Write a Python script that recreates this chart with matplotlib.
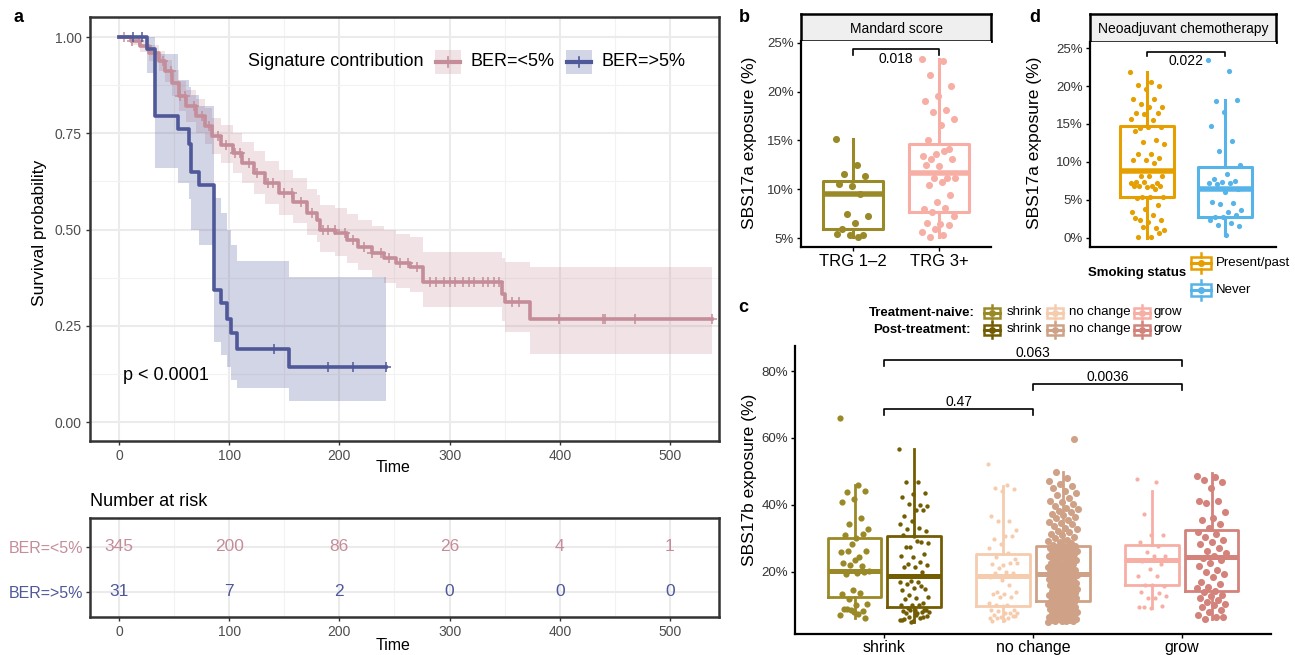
import numpy as np
import matplotlib
matplotlib.use("Agg")
import matplotlib.pyplot as plt
from matplotlib import font_manager
from matplotlib.patches import Rectangle
from matplotlib.lines import Line2D

W, H = 1295, 655

# ---------------- panel a: Kaplan-Meier ----------------
lo_times = [0, 10.5, 19, 27.4, 35.9, 42.2, 48.5, 54.8, 61.2, 69.6, 78, 84.4, 92.8, 103.4,
            111.8, 122.4, 132.9, 145.6, 158.2, 170.9, 180, 182.7, 196.2, 206.7, 217.3,
            229.9, 240.5, 251, 263.7, 275.5, 347.2, 350.2, 373.4]
lo_surv = [1.0, 0.989, 0.976, 0.958, 0.937, 0.911, 0.880, 0.846, 0.820, 0.794, 0.768, 0.742,
           0.720, 0.698, 0.672, 0.646, 0.620, 0.594, 0.572, 0.542, 0.525, 0.499, 0.490, 0.473,
           0.455, 0.438, 0.425, 0.412, 0.403, 0.364, 0.334, 0.312, 0.269]
lo_lower = [1.0, 0.978, 0.960, 0.937, 0.912, 0.882, 0.846, 0.808, 0.780, 0.751, 0.723, 0.695,
            0.672, 0.648, 0.620, 0.593, 0.566, 0.539, 0.516, 0.485, 0.468, 0.441, 0.431, 0.413,
            0.394, 0.376, 0.362, 0.348, 0.337, 0.299, 0.262, 0.234, 0.176]
lo_upper = [1.0, 1.0, 0.992, 0.979, 0.963, 0.941, 0.915, 0.885, 0.862, 0.838, 0.815, 0.791,
            0.771, 0.751, 0.727, 0.703, 0.679, 0.655, 0.634, 0.606, 0.590, 0.565, 0.557, 0.541,
            0.525, 0.510, 0.499, 0.488, 0.481, 0.441, 0.426, 0.415, 0.403]
lo_end = 538
lo_censor = [5, 12, 18, 25, 33, 40, 47, 55, 60, 68, 75, 82, 90, 97, 105, 110, 118, 125, 135,
             140, 150, 157, 165, 175, 185, 190, 196, 205, 212, 222, 230, 238, 245, 255, 262,
             270, 282, 288, 295, 300, 305, 312, 318, 322, 330, 335, 340, 345, 357, 363, 399,
             439, 441, 468, 538]

hi_times = [0, 25, 32.9, 54, 63.3, 65.4, 73, 86.5, 92.8, 97.9, 102, 106.7, 154]
hi_surv = [1.0, 0.968, 0.795, 0.761, 0.722, 0.65, 0.616, 0.344, 0.31, 0.269, 0.232, 0.191, 0.143]
hi_lower = [1.0, 0.906, 0.661, 0.622, 0.58, 0.499, 0.460, 0.208, 0.174, 0.143, 0.11, 0.088, 0.056]
hi_upper = [1.0, 1.0, 0.956, 0.889, 0.87, 0.850, 0.821, 0.581, 0.542, 0.499, 0.46, 0.419, 0.377]
hi_end = 242
hi_censor = [13, 21, 141, 190, 212, 242]

risk_times = [0, 100, 200, 300, 400, 500]
risk_lo = [345, 200, 86, 26, 4, 1]
risk_hi = [31, 7, 2, 0, 0, 0]
group_labels = ["BER=<5%", "BER=>5%"]

# ---------------- panel b ----------------
b_cats = ["TRG 1\u20132", "TRG 3+"]
b_trg12 = [15.2, 12.5, 11.6, 11.4, 10.3, 10.5, 9.5, 7.5, 7.3, 6.5, 5.9, 5.3, 5.3, 5.4, 5.1]
b_trg3 = [23.4, 23.1, 21.7, 20.6, 19.6, 19.0, 18.1, 17.9, 17.2, 16.6, 15.0, 14.1, 13.6, 13.4,
          13.9, 13.1, 13.1, 12.4, 12.5, 11.2, 11.2, 11.2, 10.7, 10.4, 9.4, 8.7, 8.0, 8.1, 7.7,
          7.3, 6.4, 6.5, 6.3, 5.9, 5.6, 5.3, 5.1]
# q1, median, q3, whisker low, whisker high
b_stats = [(5.9, 9.5, 10.8, 5.1, 15.2), (7.7, 11.7, 14.6, 5.1, 23.4)]
b_pval = "0.018"

# ---------------- panel d ----------------
d_cats = ["Present/past", "Never"]
d_present = [21.9, 20.5, 20.1, 20.0, 19.6, 18.3, 18.3, 17.7, 17.3, 17.3, 16.4, 16.4, 16.3, 15.7,
             15.5, 14.5, 14.6, 14.6, 14.1, 12.9, 12.6, 12.4, 11.0, 11.0, 10.5, 10.3, 10.3, 9.8,
             8.1, 8.1, 8.1, 7.3, 7.2, 7.3, 7.2, 6.8, 6.8, 6.8, 6.7, 6.8, 6.4, 5.4, 5.4, 5.4, 5.3,
             4.3, 3.8, 3.4, 3.0, 2.4, 2.4, 2.1, 2.6, 1.3, 1.5, 1.1, 0.1, 0.1, 0.6]
d_never = [23.4, 22.0, 18.0, 18.2, 16.6, 14.7, 12.8, 11.5, 9.6, 8.4, 7.8, 7.5, 7.3, 7.2, 7.2,
           7.1, 6.4, 6.0, 4.7, 4.6, 4.4, 3.7, 3.4, 2.7, 3.0, 2.8, 2.3, 2.0, 1.7, 1.6, 0.4]
d_stats = [(5.4, 8.8, 14.8, 0.0, 21.9), (2.8, 6.5, 9.3, 0.4, 18.2)]
d_pval = "0.022"

# ---------------- panel c ----------------
c_cats = ["shrink", "no change", "grow"]
shrink_naive = [65.9, 46.0, 43.7, 44.2, 41.7, 40.9, 36.0, 34.2, 32.9, 30.2, 31.0, 31.3, 28.3,
                25.8, 24.5, 26.1, 26.2, 23.6, 22.6, 21.6, 22.0, 20.3, 19.5, 19.3, 20.0, 14.5,
                13.3, 13.6, 11.8, 10.4, 9.9, 8.9, 8.2, 8.4, 6.9, 7.4, 8.9, 6.2, 7.8]
shrink_post = [56.6, 46.9, 46.9, 43.4, 43.3, 42.2, 40.0, 40.2, 39.7, 38.5, 36.7, 38.3, 35.2,
               34.2, 33.0, 32.8, 32.3, 30.8, 31.0, 28.8, 27.3, 28.7, 29.3, 27.3, 25.3, 24.3,
               24.8, 22.8, 22.3, 22.1, 21.3, 21.4, 19.8, 17.3, 16.8, 17.0, 16.3, 14.9, 15.0,
               14.4, 15.6, 13.1, 12.4, 12.1, 11.7, 10.5, 10.1, 9.9, 9.9, 9.1, 8.6, 8.4, 8.2,
               8.0, 8.4, 7.8, 7.6, 7.6, 8.5, 5.2, 5.5, 6.0, 6.3, 6.8, 7.0, 5.8, 6.5, 5.0, 5.4]
nochange_naive = [52.3, 45.9, 45.0, 44.7, 44.0, 36.7, 35.2, 35.1, 32.5, 30.7, 29.9, 30.7, 28.4,
                  27.1, 25.6, 24.5, 23.8, 22.0, 22.3, 22.5, 21.0, 22.6, 19.8, 19.5, 19.5, 17.5,
                  18.3, 16.1, 14.0, 13.9, 13.2, 13.2, 12.3, 12.3, 10.6, 10.1, 10.1, 8.6, 9.7,
                  8.6, 7.6, 8.1, 7.6, 7.6, 7.0, 6.8, 6.5, 6.0, 6.0, 6.0, 6.6, 5.5, 5.2]
nochange_post = [5.0, 5.1, 5.1, 5.3, 5.2, 5.5, 5.4, 5.7, 5.9, 5.8, 6.0, 6.2, 6.3, 6.5, 6.6, 6.9,
                 7.0, 7.3, 7.4, 7.6, 7.7, 8.0, 8.1, 8.3, 8.4, 8.7, 8.9, 9.1, 9.2, 9.5, 9.6, 9.9,
                 10.1, 10.3, 10.4, 10.8, 10.9, 11.0, 11.2, 11.3, 11.5, 11.8, 12.0, 12.1, 12.4,
                 12.6, 12.9, 13.0, 13.3, 13.5, 13.6, 13.9, 14.2, 14.4, 14.5, 14.8, 15.1, 15.3,
                 15.4, 15.7, 16.0, 16.1, 16.4, 16.6, 16.9, 17.0, 17.2, 17.5, 17.7, 17.8, 18.1,
                 18.3, 18.4, 18.6, 18.8, 18.9, 19.0, 19.1, 19.2, 19.3, 19.5, 19.8, 20.0, 20.3,
                 20.5, 20.6, 20.9, 21.2, 21.4, 21.5, 21.8, 22.1, 22.3, 22.4, 22.7, 23.0, 23.1,
                 23.4, 23.7, 23.9, 24.0, 24.3, 24.6, 24.7, 25.0, 25.2, 25.4, 25.7, 25.9, 26.0,
                 26.2, 26.5, 26.6, 26.8, 27.0, 27.1, 27.3, 27.5, 27.6, 27.8, 28.1, 28.5, 28.9,
                 29.3, 29.6, 30.2, 30.5, 31.0, 31.4, 31.9, 32.3, 32.8, 33.1, 33.7, 34.2, 34.6,
                 35.0, 35.5, 36.1, 36.4, 37.0, 37.3, 37.8, 38.2, 38.6, 39.0, 39.5, 40.1, 40.7,
                 41.2, 42.0, 42.8, 43.5, 44.2, 44.9, 45.6, 46.3, 47.0, 48.1, 49.9, 59.8]
grow_naive = [47.7, 46.9, 37.2, 31.0, 31.1, 29.0, 27.8, 25.8, 24.8, 24.8, 23.3, 22.3, 20.8, 18.8,
              18.7, 16.1, 15.8, 16.0, 13.8, 13.5, 12.1, 12.6, 12.0, 9.3, 9.7, 9.2, 9.5]
grow_post = [48.5, 48.2, 47.5, 46.8, 45.0, 41.0, 41.2, 40.5, 37.8, 36.0, 35.5, 34.3, 33.0, 32.0,
             31.2, 30.5, 29.5, 28.8, 28.2, 27.0, 26.3, 25.5, 24.8, 24.2, 23.6, 22.5, 21.8, 20.6,
             20.0, 19.2, 18.5, 17.0, 16.2, 15.5, 15.0, 14.3, 13.8, 13.0, 12.6, 12.0, 11.5, 11.0,
             10.3, 10.0, 9.5, 8.5, 7.8, 7.0, 6.5, 5.9, 6.3]
# naive / post box stats per category: q1, median, q3, whisker low, whisker high
c_naive_stats = [(12.5, 20.3, 30.2, 6.2, 46.0), (9.6, 18.6, 25.3, 5.2, 45.7), (16.0, 23.5, 28.0, 9.2, 44.2)]
c_post_stats = [(9.3, 18.8, 30.7, 5.0, 56.6), (11.3, 19.3, 27.8, 5.0, 49.9), (14.3, 24.5, 32.4, 5.9, 49.5)]
c_pvals = ["0.063", "0.0036", "0.47"]

# ---------------- style ----------------
PINK = "#C48D99"
BLUE = "#4F5898"
OLIVE = "#9A8A27"
SALMON = "#F7AEA5"
ORANGE = "#E69F00"
SKY = "#56B4E9"
c_naive_cols = ["#9A8A27", "#F5CCAE", "#F7AEA5"]
c_post_cols = ["#735D03", "#CFA287", "#D3837B"]

names = {f.name for f in font_manager.fontManager.ttflist}
NARROW = "Liberation Sans Narrow" if "Liberation Sans Narrow" in names else "Liberation Sans"
plt.rcParams["font.family"] = ["Liberation Sans", "DejaVu Sans"]

fig = plt.figure(figsize=(W / 100, H / 100), dpi=100)


def px_axes(l, t, r, b):
    return fig.add_axes([l / W, 1 - b / H, (r - l) / W, (b - t) / H])


def ftext(x, y, s, **kw):
    fig.text(x / W, 1 - y / H, s, **kw)


def fline(xs, ys, **kw):
    fig.add_artist(Line2D([x / W for x in xs], [1 - y / H for y in ys], transform=fig.transFigure, **kw))


def frect(l, t, w, h, **kw):
    fig.add_artist(Rectangle((l / W, 1 - (t + h) / H), w / W, h / H, transform=fig.transFigure, **kw))


def key_box(xc, yc, w, h, color, dot=True):
    # small boxplot glyph used in the legends
    frect(xc - w / 2, yc - h * 0.32, w, h * 0.64, fill=False, ec=color, lw=1.8)
    fline([xc - w / 2, xc + w / 2], [yc, yc], color=color, lw=2.2)
    fline([xc, xc], [yc - h / 2, yc - h * 0.32], color=color, lw=1.8)
    fline([xc, xc], [yc + h * 0.32, yc + h / 2], color=color, lw=1.8)
    if dot:
        fig.add_artist(Line2D([xc / W], [1 - yc / H], transform=fig.transFigure, marker="o",
                              ms=4, color=color, ls="none"))


def km(ax, t, s, lo, hi, tend, cens, color):
    tt = np.append(t, tend)
    ax.fill_between(tt, np.append(lo, lo[-1]), np.append(hi, hi[-1]), step="post",
                    color=color, alpha=0.25, lw=0)
    ax.step(tt, np.append(s, s[-1]), where="post", color=color, lw=2.6)
    idx = np.searchsorted(t, cens, side="right") - 1
    ax.plot(cens, np.asarray(s)[idx], ls="none", marker="+", ms=7, mew=1.1, color=color)


def theme_bw(ax):
    ax.set_facecolor("white")
    ax.grid(True, which="major", color="#EBEBEB", lw=1.5)
    ax.grid(True, which="minor", color="#F2F2F2", lw=0.8)
    ax.set_axisbelow(True)
    for sp in ax.spines.values():
        sp.set_color("#333333")
        sp.set_linewidth(1.8)
    ax.tick_params(which="major", length=3, width=1, color="#333333", labelsize=10,
                   labelcolor="#4D4D4D", pad=3)
    ax.tick_params(which="minor", length=0)


def classic(ax):
    for sp in ["top", "right"]:
        ax.spines[sp].set_visible(False)
    for sp in ["left", "bottom"]:
        ax.spines[sp].set_linewidth(1.6)
        ax.spines[sp].set_color("black")
    ax.tick_params(length=3, width=1, color="black", labelsize=9.5, labelcolor="#333333", pad=2)


def jitter(ax, x0, vals, color, s, w):
    k = np.arange(len(vals))
    off = ((k * 0.6180339887) % 1.0 - 0.5) * 2 * w
    ax.scatter(x0 + off, vals, s=s, color=color, lw=0, zorder=3)


def box(ax, pos, st, color, width, lw=2.0):
    q1, med, q3, lo, hi = st
    ax.bxp([dict(med=med, q1=q1, q3=q3, whislo=lo, whishi=hi, fliers=[])], positions=[pos],
           widths=width, showfliers=False, showcaps=False, manage_ticks=False,
           boxprops=dict(color=color, lw=lw), whiskerprops=dict(color=color, lw=lw),
           medianprops=dict(color=color, lw=lw * 1.8, solid_capstyle="butt"))


def bracket(ax, x1, x2, y, ytip, label, ylab):
    ax.plot([x1, x1, x2, x2], [ytip, y, y, ytip], color="black", lw=1.2)
    ax.text((x1 + x2) / 2, ylab, label, ha="center", va="center", fontsize=10)


def strip(l, t, r, b, label):
    sx = px_axes(l, t, r, b)
    sx.set_facecolor("#EFEFEF")
    sx.set_xticks([])
    sx.set_yticks([])
    for sp in sx.spines.values():
        sp.set_linewidth(1.8)
        sp.set_color("black")
    sx.text(0.5, 0.45, label, ha="center", va="center", fontsize=10, transform=sx.transAxes)


# ================= panel a =================
ax = px_axes(90, 17, 719, 441)
theme_bw(ax)
km(ax, lo_times, lo_surv, lo_lower, lo_upper, lo_end, lo_censor, PINK)
km(ax, hi_times, hi_surv, hi_lower, hi_upper, hi_end, hi_censor, BLUE)
ax.set_xlim(-26.3, 544.5)
ax.set_ylim(-0.049, 1.052)
ax.set_xticks(risk_times)
ax.set_xticks([50, 150, 250, 350, 450], minor=True)
ax.set_yticks([0, 0.25, 0.5, 0.75, 1.0])
ax.set_yticks([0.125, 0.375, 0.625, 0.875], minor=True)
ax.set_yticklabels(["0.00", "0.25", "0.50", "0.75", "1.00"])
for lab in ax.get_xticklabels() + ax.get_yticklabels():
    lab.set_family(NARROW)
ax.text(3.6, 0.122, "p < 0.0001", ha="left", va="center", fontsize=13, family=NARROW)
ftext(393, 468, "Time", ha="center", va="center", fontsize=11.5, family=NARROW)
ftext(40, 233, "Survival probability", ha="center", va="center", rotation=90, fontsize=12.5)
ftext(19, 18, "a", ha="center", va="center", fontsize=13, weight="bold")

ftext(248, 62, "Signature contribution", ha="left", va="center", fontsize=13, family=NARROW)
for kx, col, lab in [(448, PINK, group_labels[0]), (578.5, BLUE, group_labels[1])]:
    frect(kx - 13, 50, 26, 24, color=col, alpha=0.25, lw=0)
    fline([kx - 12, kx + 12], [62, 62], color=col, lw=3)
    fline([kx, kx], [57, 67], color=col, lw=1.2)
    ftext(kx + 23, 62, lab, ha="left", va="center", fontsize=13, family=NARROW)

# risk table
rx = px_axes(90, 518, 719, 617)
theme_bw(rx)
rx.set_xlim(-26.3, 544.5)
rx.set_ylim(0.44, 2.64)
rx.set_xticks(risk_times)
rx.set_xticks([50, 150, 250, 350, 450], minor=True)
rx.set_yticks([2, 1])
rx.set_yticklabels(group_labels, fontsize=11.5, family=NARROW)
rx.tick_params(axis="y", pad=2)
rx.get_yticklabels()[0].set_color(PINK)
rx.get_yticklabels()[1].set_color(BLUE)
for lab in rx.get_xticklabels():
    lab.set_family(NARROW)
for t, n1, n2 in zip(risk_times, risk_lo, risk_hi):
    rx.text(t, 2, str(n1), ha="center", va="center", color=PINK, fontsize=12.5, family=NARROW)
    rx.text(t, 1, str(n2), ha="center", va="center", color=BLUE, fontsize=12.5, family=NARROW)
ftext(90, 502, "Number at risk", ha="left", va="center", fontsize=13, family=NARROW)
ftext(393, 645, "Time", ha="center", va="center", fontsize=11.5, family=NARROW)

# ================= panel b =================
strip(801, 14, 991, 41, "Mandard score")
bx = px_axes(801, 41, 991, 247)
classic(bx)
for i, (vals, col) in enumerate([(b_trg12, OLIVE), (b_trg3, SALMON)]):
    box(bx, i + 1, b_stats[i], col, 0.7, lw=2.2)
    jitter(bx, i + 1, vals, col, 26, 0.2)
bracket(bx, 1, 2, 24.35, 23.8, b_pval, 23.35)
bx.set_xlim(0.395, 2.605)
bx.set_ylim(4.08, 25.2)
bx.set_xticks([1, 2])
bx.set_xticklabels(b_cats, fontsize=12, color="black")
bx.set_yticks([5, 10, 15, 20, 25])
bx.set_yticklabels(["5%", "10%", "15%", "20%", "25%"])
ftext(750, 143, "SBS17a exposure (%)", ha="center", va="center", rotation=90, fontsize=12.5)
ftext(744, 17, "b", ha="center", va="center", fontsize=13, weight="bold")

# ================= panel d =================
strip(1090, 14, 1276, 42, "Neoadjuvant chemotherapy")
dx = px_axes(1090, 42, 1276, 247)
classic(dx)
for i, (vals, col) in enumerate([(d_present, ORANGE), (d_never, SKY)]):
    box(dx, i + 1, d_stats[i], col, 0.7, lw=2.2)
    jitter(dx, i + 1, vals, col, 14, 0.22)
bracket(dx, 1, 2, 24.5, 23.9, d_pval, 23.3)
dx.set_xlim(0.26, 2.66)
dx.set_ylim(-1.2, 25.8)
dx.set_xticks([])
dx.set_yticks([0, 5, 10, 15, 20, 25])
dx.set_yticklabels(["0%", "5%", "10%", "15%", "20%", "25%"])
ftext(1035, 143, "SBS17a exposure (%)", ha="center", va="center", rotation=90, fontsize=12.5)
ftext(1035, 17, "d", ha="center", va="center", fontsize=13, weight="bold")
ftext(1088, 273, "Smoking status", ha="left", va="center", fontsize=9.5, weight="bold")
key_box(1201, 263, 20, 20, ORANGE)
key_box(1201, 290, 20, 20, SKY)
ftext(1216, 263, d_cats[0], ha="left", va="center", fontsize=9.5)
ftext(1216, 290, d_cats[1], ha="left", va="center", fontsize=9.5)

# ================= panel c =================
cx = px_axes(795, 346, 1271, 634)
classic(cx)
c_naive = [shrink_naive, nochange_naive, grow_naive]
c_post = [shrink_post, nochange_post, grow_post]
naive_sizes = [20, 9, 9]
post_sizes = [10, 26, 26]
for i in range(3):
    box(cx, i + 1 - 0.2, c_naive_stats[i], c_naive_cols[i], 0.36, lw=2.0)
    box(cx, i + 1 + 0.2, c_post_stats[i], c_post_cols[i], 0.36, lw=2.0)
    jitter(cx, i + 1 - 0.2, c_naive[i], c_naive_cols[i], naive_sizes[i], 0.1)
    jitter(cx, i + 1 + 0.2, c_post[i], c_post_cols[i], post_sizes[i], 0.1)
bracket(cx, 1, 3, 83.3, 81.5, c_pvals[0], 85.5)
bracket(cx, 2, 3, 76.0, 74.2, c_pvals[1], 78.3)
bracket(cx, 1, 2, 68.8, 67.0, c_pvals[2], 70.8)
cx.set_xlim(0.4, 3.6)
cx.set_ylim(1.35, 87.5)
cx.set_xticks([1, 2, 3])
cx.set_xticklabels(c_cats, fontsize=11.5, color="black")
cx.tick_params(axis="x", pad=1)
cx.set_yticks([20, 40, 60, 80])
cx.set_yticklabels(["20%", "40%", "60%", "80%"])
ftext(750, 480, "SBS17b exposure (%)", ha="center", va="center", rotation=90, fontsize=12.5)
ftext(743, 308, "c", ha="center", va="center", fontsize=13, weight="bold")

ftext(975, 313, "Treatment-naive:", ha="right", va="center", fontsize=9.5, weight="bold")
ftext(971, 330, "Post-treatment:", ha="right", va="center", fontsize=9.5, weight="bold")
for kx, lx, lab, j in [(992, 1007, c_cats[0], 0), (1055, 1069, c_cats[1], 1), (1142, 1154, c_cats[2], 2)]:
    key_box(kx, 313, 16, 16, c_naive_cols[j])
    key_box(kx, 330, 16, 16, c_post_cols[j])
    ftext(lx, 312, lab, ha="left", va="center", fontsize=9.5)
    ftext(lx, 329, lab, ha="left", va="center", fontsize=9.5)

fig.savefig("out.png", dpi=100)
